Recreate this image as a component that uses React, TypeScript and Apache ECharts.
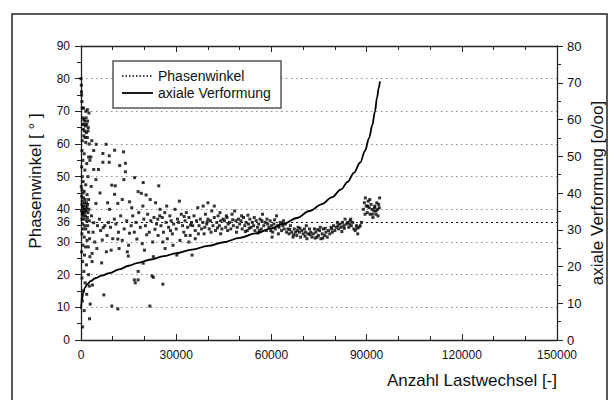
import React, { useEffect, useRef } from "react";
import * as echarts from "echarts";

// ---- data ----
const xTicks = [0, 30000, 60000, 90000, 120000, 150000];
const leftTicks = [0, 10, 20, 30, 40, 50, 60, 70, 80, 90];
const rightTicks = [0, 10, 20, 30, 40, 50, 60, 70, 80];
const referenceAngle = 36;

// axiale Verformung [o/oo] vs Anzahl Lastwechsel
const strainCurve: [number, number][] = [
  [0, 8.5], [300, 11], [700, 12.8], [1200, 14.2], [2000, 15.2], [3000, 16],
  [4500, 16.8], [6500, 17.5], [9000, 18.2], [12000, 19.2], [15000, 20.2],
  [18000, 21], [22000, 21.9], [26000, 22.8], [30000, 23.6], [35000, 24.6],
  [40000, 25.6], [45000, 26.6], [50000, 27.8], [55000, 29], [60000, 30.4],
  [64000, 31.7], [68000, 33.2], [72000, 35.1], [76000, 37], [79000, 38.8],
  [82000, 41], [84000, 43], [86000, 45.5], [88000, 48.3], [89500, 51.5],
  [90800, 55], [91800, 58.5], [92600, 62], [93300, 66], [93800, 68.5], [94200, 70.4],
];

// Phasenwinkel points
const phaseEarly: [number, number][] = [
  [0, 80], [100, 78], [150, 76], [200, 75], [300, 73], [400, 71], [800, 71], [1500, 70], [2000, 70.5],
  [2500, 69.5], [600, 68], [900, 67.5], [1200, 67], [1600, 68], [2100, 67], [500, 66], [1000, 66],
  [1400, 65.5], [1800, 66], [2300, 65], [700, 64.5], [1100, 64], [1700, 63.5], [2200, 64], [900, 62.5],
  [1300, 62], [2000, 62], [400, 61], [1500, 60.5], [2600, 60], [300, 58], [1000, 57], [2400, 56],
  [600, 55], [1800, 54], [2800, 55], [200, 53], [1200, 52], [400, 50], [2200, 50], [700, 48.5],
  [1500, 47.5], [100, 47], [300, 46], [1000, 45.5], [600, 45], [1900, 44.5], [200, 44], [800, 43.5],
  [1300, 43], [2400, 43], [400, 42.5], [1100, 42], [1700, 42], [300, 41.5], [700, 41], [1500, 41],
  [2100, 41.5], [500, 40.5], [900, 40], [1300, 40], [1900, 40.5], [2500, 40], [200, 39.5], [600, 39],
  [1100, 39], [1600, 39.5], [2200, 39], [400, 38.5], [800, 38], [1400, 38], [2000, 37.5], [300, 37],
  [1000, 37], [1800, 36.5], [2600, 36.5], [500, 35.5], [1200, 35], [2100, 35], [700, 34], [1500, 34],
  [2400, 33], [300, 32.5], [1000, 31.5], [1900, 30.5], [2700, 31], [600, 29], [1400, 28.5], [2300, 28.5],
  [200, 27], [1100, 26], [2800, 25.5], [500, 24], [1700, 23], [900, 21], [2400, 20], [300, 19],
  [1300, 17.5], [2600, 16.5], [700, 15], [1800, 14], [400, 12], [2900, 11], [1000, 9], [2700, 6.5], [500, 4],
];

const phaseScatter: [number, number][] = [
  [4800, 59.9], [7900, 59.9], [10600, 58.1], [13400, 57.6], [6900, 57.1], [8900, 56.4], [6900, 54.4],
  [8900, 54.4], [12200, 53.4], [14000, 54.1], [4000, 52.2], [5500, 52.2], [4700, 49.1], [9700, 47.4],
  [10800, 47.2], [13500, 49.1], [14000, 51.5], [16900, 49.7], [19600, 48.2], [18000, 45.4], [19000, 44.9],
  [20500, 44.4], [24500, 47.2], [10600, 44.6], [11600, 41.8], [15300, 42.3], [4700, 41.8], [7000, 34.4],
  [4000, 35.9], [6700, 30.6], [9500, 27.5], [11600, 30.9], [15300, 32.7], [17600, 30.9], [20700, 32.2],
  [23300, 33.9], [24900, 40], [3500, 26.5], [3500, 24], [6500, 23.6], [3600, 16.8], [7200, 13.8],
  [9700, 10.4], [11600, 9.5], [21700, 10.4], [17100, 17.5], [18000, 18.4], [22800, 19.2], [25800, 17.1],
  [14900, 25.7], [19600, 23.5], [18000, 21], [16800, 18.4], [22400, 19.6],
  [3300, 38], [3800, 33], [4300, 30], [5200, 35], [5800, 37], [6200, 33.5], [7500, 35], [8200, 32],
  [8700, 36], [9300, 34.5], [10000, 31], [10500, 37], [11000, 35.5], [11800, 33], [12500, 38], [13000, 30.5],
  [13600, 34], [14400, 36.5], [15000, 29], [15800, 35], [16300, 38], [16800, 33], [17300, 36], [18200, 39],
  [18700, 34.5], [19300, 29.5], [19800, 37], [20300, 35], [21000, 38.5], [21500, 33], [22000, 36.5],
  [22600, 30], [23000, 37.5], [23800, 35.5], [24300, 32], [24800, 38], [5000, 28], [8000, 27], [12000, 28],
  [14600, 27], [20000, 27.5], [22800, 25.5], [9000, 40], [13000, 43], [16000, 40.5], [19500, 41],
  [23500, 42], [24200, 37], [6000, 45], [8400, 42], [3200, 47], [3100, 56], [3400, 61], [4000, 58], [21800, 43],
];

const phaseMid: [number, number][] = [
  [25200, 35], [25600, 37.5], [26000, 33], [26400, 39], [26800, 36], [27200, 31], [27600, 34.5], [28000, 38],
  [28400, 36.5], [28800, 32.5], [29200, 35.5], [29600, 40], [30000, 34], [30400, 37], [30800, 36], [31200, 30.5],
  [31600, 38.5], [32000, 35], [32400, 33], [32800, 36.5], [33200, 39], [33600, 34.5], [34000, 37.5], [34400, 32],
  [34800, 36], [35200, 35], [35600, 38], [36000, 33.5], [36400, 36.5], [36800, 40.5], [37200, 35], [37600, 37],
  [38000, 34], [38400, 36], [38800, 32.5], [39200, 38.5], [39600, 35.5], [40000, 37], [40400, 34], [40800, 36.5],
  [41200, 39.5], [41600, 35], [42000, 37.5], [42400, 33.5], [42800, 36], [43200, 38], [43600, 35], [44000, 36.5],
  [44400, 34], [44800, 37], [27000, 41], [29000, 29], [31000, 42.5], [34000, 30], [36000, 31], [38500, 41],
  [40000, 42], [42000, 41], [43800, 39], [26500, 28], [30200, 26], [35000, 26], [25800, 30], [28200, 33.5],
  [33000, 32], [37000, 32.5], [39000, 34.5], [41000, 33], [44000, 32.5], [32500, 37.8], [34500, 35.2],
  [39800, 36.2], [43000, 34.3],
];

const phaseBand: [number, number][] = [
  [45200, 36.5], [45600, 34.5], [46000, 37.5], [46400, 35.5], [46800, 36], [47200, 34], [47600, 38.5], [48000, 35],
  [48400, 39.5], [48800, 36.5], [49200, 34.5], [49600, 37], [50000, 35.5], [50400, 36.5], [50800, 34], [51200, 37.5],
  [51600, 35], [52000, 36], [52400, 33.5], [52800, 35.5], [53200, 37], [53600, 34.5], [54000, 36], [54400, 35],
  [54800, 33.5], [55200, 36.5], [55600, 34.5], [56000, 35.5], [56400, 37], [56800, 34], [57200, 38.5], [57600, 35],
  [58000, 36], [58400, 33.5], [58800, 35.5], [59200, 34.5], [59600, 36.5], [60000, 35], [60400, 33], [60800, 35.5],
  [61200, 34], [61600, 38], [62000, 35], [62400, 34.5], [62800, 36], [63200, 33.5], [63600, 35], [64000, 34],
  [64400, 35.5], [64800, 33], [46200, 33.5], [47800, 36.8], [49000, 33], [50600, 38], [51800, 33.2], [53000, 34.2],
  [54600, 37.5], [55800, 32.8], [57000, 36.5], [58600, 37], [59800, 33.5], [61000, 36.8], [62200, 32.5],
  [63800, 36.5], [45800, 38], [52600, 38.2], [60200, 31.5], [56200, 33.5],
];

const phaseLate: [number, number][] = [
  [65200, 34], [65600, 32.5], [66000, 35], [66400, 33], [66800, 31.5], [67200, 34], [67600, 33], [68000, 32],
  [68400, 34.5], [68800, 33], [69200, 31.5], [69600, 33.5], [70000, 32.5], [70400, 34], [70800, 33], [71200, 31],
  [71600, 32.5], [72000, 34], [72400, 33], [72800, 31.5], [73200, 32.5], [73600, 34], [74000, 33], [74400, 31.5],
  [74800, 32], [75200, 33.5], [75600, 31], [76000, 32.5], [76400, 34], [76800, 32], [77200, 33], [77600, 31.5],
  [65800, 33.8], [67000, 32.2], [69000, 34.2], [70600, 31.8], [72200, 32.2], [73800, 31.2], [75400, 34.5],
  [77000, 34.2], [71000, 35], [74600, 33.8], [68200, 33.5], [76200, 31.2],
  [78000, 33.5], [78400, 32.5], [78800, 34.5], [79200, 33], [79600, 35], [80000, 33.5], [80400, 34.5], [80800, 36],
  [81200, 34], [81600, 35.5], [82000, 34.5], [82400, 36], [82800, 35], [83200, 37], [83600, 35.5], [84000, 36],
  [84400, 34.5], [84800, 36.5], [85200, 35], [85600, 36], [86000, 34], [86400, 33.5], [86800, 35], [87200, 32.5],
  [87600, 34.5], [88000, 35], [88400, 36], [79000, 34], [81000, 35], [83000, 34.2], [85000, 37], [87000, 34.2],
  [82200, 33.2], [84600, 35.5],
];

const phaseEnd: [number, number][] = [
  [89000, 40], [89300, 42], [89600, 43.5], [89900, 41], [90200, 39], [90500, 42.5], [90800, 40.5], [91100, 38.5],
  [91400, 41.5], [91700, 40], [92000, 37.5], [92300, 39.5], [92600, 41], [92900, 38.5], [93200, 42], [93500, 40],
  [93800, 41.5], [94100, 43.5], [89500, 38.5], [90300, 41], [91000, 43], [91800, 38.5], [92500, 40.5],
  [93000, 39.5], [93600, 38], [94000, 40.5],
];

const phasePoints = [...phaseEarly, ...phaseScatter, ...phaseMid, ...phaseBand, ...phaseLate, ...phaseEnd];

const FONT = "'Liberation Sans', Arial, Helvetica, sans-serif";

export default function App() {
  const ref = useRef<HTMLDivElement>(null);
  useEffect(() => {
    if (!ref.current) return;
    const chart = echarts.init(ref.current, null, { renderer: "svg" });
    const axisColor = "#222";
    const gridL = 81, gridR = 557, gridT = 46, gridB = 340;
    const plain = (v: number) => String(v);
    chart.setOption({
      animation: false,
      backgroundColor: "#fff",
      textStyle: { fontFamily: FONT },
      grid: { left: gridL, right: 614 - gridR, top: gridT, bottom: 400 - gridB, containLabel: false },
      xAxis: [
        {
          type: "value", min: xTicks[0], max: xTicks[xTicks.length - 1], interval: xTicks[1] - xTicks[0],
          position: "bottom",
          axisLine: { show: true, onZero: false, lineStyle: { color: axisColor, width: 1.3 } },
          axisTick: { show: true, inside: true, length: 6, lineStyle: { color: axisColor } },
          minorTick: { show: true, splitNumber: 3, length: 4, lineStyle: { color: axisColor } },
          axisLabel: { color: "#111", fontSize: 12, margin: 9, fontFamily: FONT, formatter: plain },
          splitLine: { show: false },
        },
        {
          type: "value", min: xTicks[0], max: xTicks[xTicks.length - 1], interval: xTicks[1] - xTicks[0],
          position: "top",
          axisLine: { show: true, onZero: false, lineStyle: { color: axisColor, width: 1.3 } },
          axisTick: { show: true, inside: true, length: 6, lineStyle: { color: axisColor } },
          minorTick: { show: true, splitNumber: 3, length: 4, lineStyle: { color: axisColor } },
          axisLabel: { show: false },
          splitLine: { show: false },
        },
      ],
      yAxis: [
        {
          type: "value", min: leftTicks[0], max: leftTicks[leftTicks.length - 1], interval: leftTicks[1] - leftTicks[0],
          position: "left",
          axisLine: { show: true, onZero: false, lineStyle: { color: axisColor, width: 1.3 } },
          axisTick: { show: true, inside: false, length: 6, lineStyle: { color: axisColor } },
          minorTick: { show: true, splitNumber: 2, length: 4, lineStyle: { color: axisColor } },
          axisLabel: { color: "#111", fontSize: 12, margin: 11, fontFamily: FONT, formatter: plain },
          splitLine: { show: true, lineStyle: { color: "#8a8a8a", type: [1.5, 3.5], width: 1 } },
        },
        {
          type: "value", min: rightTicks[0], max: rightTicks[rightTicks.length - 1], interval: rightTicks[1] - rightTicks[0],
          position: "right",
          axisLine: { show: true, onZero: false, lineStyle: { color: axisColor, width: 1.3 } },
          axisTick: { show: true, inside: false, length: 6, lineStyle: { color: axisColor } },
          minorTick: { show: true, splitNumber: 2, length: 4, lineStyle: { color: axisColor } },
          axisLabel: { color: "#111", fontSize: 13, margin: 10, fontFamily: FONT, formatter: plain },
          splitLine: { show: false },
        },
      ],
      series: [
        {
          name: "Phasenwinkel",
          type: "scatter",
          xAxisIndex: 0, yAxisIndex: 0,
          data: phasePoints,
          symbol: "rect",
          symbolSize: 3,
          itemStyle: { color: "#000" },
          z: 3,
          markLine: {
            silent: true,
            symbol: "none",
            data: [{ yAxis: referenceAngle }],
            lineStyle: { color: "#111", type: [2, 3], width: 1.2 },
            label: { show: true, position: "start", formatter: String(referenceAngle), color: "#111", fontSize: 12, distance: 11, fontFamily: FONT },
          },
        },
        {
          name: "axiale Verformung",
          type: "line",
          xAxisIndex: 0, yAxisIndex: 1,
          data: strainCurve,
          showSymbol: false,
          smooth: 0.35,
          smoothMonotone: "x",
          lineStyle: { color: "#000", width: 1.8 },
          z: 4,
        },
      ],
      graphic: [
        { type: "rect", shape: { x: 12, y: 14, width: 595, height: 400 }, style: { fill: "none", stroke: "#222", lineWidth: 1.5 }, z: -1, silent: true },
        { type: "rect", shape: { x: 113, y: 61, width: 168, height: 47 }, style: { fill: "#fff", stroke: "#555", lineWidth: 1.5 }, z: 10 },
        { type: "line", shape: { x1: 122, y1: 76, x2: 153, y2: 76 }, style: { stroke: "#000", lineWidth: 1.5, lineDash: [1.5, 2] }, z: 11 },
        { type: "text", x: 158, y: 76, style: { text: "Phasenwinkel", fontSize: 14, fontFamily: FONT, fill: "#111", verticalAlign: "middle" }, z: 11 },
        { type: "line", shape: { x1: 122, y1: 93, x2: 153, y2: 93 }, style: { stroke: "#000", lineWidth: 1.8 }, z: 11 },
        { type: "text", x: 158, y: 93, style: { text: "axiale Verformung", fontSize: 14, fontFamily: FONT, fill: "#111", verticalAlign: "middle" }, z: 11 },
        { type: "text", x: 35, y: 181, rotation: Math.PI / 2, style: { text: "Phasenwinkel [ ° ]", fontSize: 17, fontFamily: FONT, fill: "#111", align: "center", verticalAlign: "middle" } },
        { type: "text", x: 597, y: 193, rotation: Math.PI / 2, style: { text: "axiale Verformung [o/oo]", fontSize: 17, fontFamily: FONT, fill: "#111", align: "center", verticalAlign: "middle" } },
        { type: "text", x: 557, y: 380, style: { text: "Anzahl Lastwechsel [-]", fontSize: 17, fontFamily: FONT, fill: "#111", align: "right", verticalAlign: "middle" } },
      ],
    });
    return () => chart.dispose();
  }, []);
  return <div ref={ref} style={{ position: "fixed", left: 0, top: 0, width: 614, height: 400 }} />;
}
